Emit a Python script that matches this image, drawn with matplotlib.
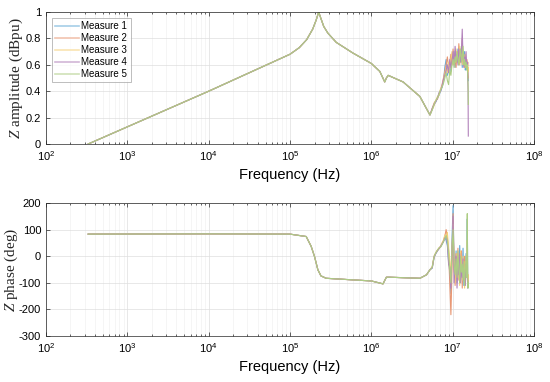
import numpy as np
import matplotlib
matplotlib.use("Agg")
import matplotlib.pyplot as plt
from matplotlib.colors import to_rgb
from matplotlib.ticker import FixedLocator, LogLocator, NullFormatter

plt.rcParams['font.family'] = ['Liberation Sans', 'DejaVu Sans']
plt.rcParams['mathtext.fontset'] = 'custom'
plt.rcParams['mathtext.rm'] = 'Liberation Sans'
plt.rcParams['mathtext.it'] = 'Liberation Serif:italic'

# shared low/mid frequency part (Hz)
freq_amp_lf = [330, 1e3, 1e4, 1e5, 1.3e5, 1.6e5, 1.9e5, 2.1e5, 2.25e5, 2.4e5, 2.6e5,
               2.92e5, 3.7e5, 5.9e5, 1e6, 1.27e6, 1.46e6, 1.53e6, 1.61e6, 2.46e6,
               3.95e6, 5.25e6]
amp_lf = [0.0, 0.13, 0.40, 0.68, 0.73, 0.79, 0.87, 0.94, 1.0, 0.95, 0.89,
          0.84, 0.77, 0.69, 0.61, 0.55, 0.47, 0.50, 0.52, 0.47,
          0.36, 0.22]

freq_ph_lf = [330, 1e4, 1e5, 1.58e5, 1.82e5, 2.0e5, 2.2e5, 2.4e5, 2.78e5, 5.9e5,
              1e6, 1.39e6, 1.53e6, 1.67e6, 3.95e6, 4.76e6, 5.25e6]
phase_lf = [83, 84, 83, 74, 37, -1, -51, -74, -83, -89,
            -93, -104, -79, -79, -83, -70, -51]

# high-frequency part (MHz)
freq_hf = [5.6, 5.9, 6.2, 6.5, 6.8, 7.1, 7.4, 7.7, 8.0, 8.3, 8.6, 8.9, 9.2, 9.5,
           9.8, 10.1, 10.4, 10.7, 11.0, 11.3, 11.6, 11.9, 12.2, 12.5, 12.8, 13.1,
           13.4, 13.7, 14.0, 14.3, 14.6, 14.9, 15.1, 15.3, 15.45, 15.55]

amp_m1 = [0.26, 0.30, 0.32, 0.35, 0.37, 0.40, 0.43, 0.47, 0.58, 0.64, 0.52, 0.56, 0.60, 0.55, 0.66, 0.62, 0.70, 0.58, 0.66, 0.62, 0.72, 0.60, 0.68, 0.64, 0.74, 0.58, 0.66, 0.60, 0.70, 0.56, 0.62, 0.58, 0.60, 0.54, 0.50, 0.48]
amp_m2 = [0.27, 0.31, 0.33, 0.34, 0.38, 0.41, 0.45, 0.50, 0.55, 0.60, 0.66, 0.58, 0.62, 0.68, 0.60, 0.72, 0.64, 0.68, 0.58, 0.70, 0.62, 0.76, 0.60, 0.70, 0.64, 0.80, 0.62, 0.68, 0.58, 0.66, 0.60, 0.64, 0.56, 0.62, 0.52, 0.50]
amp_m3 = [0.26, 0.29, 0.33, 0.36, 0.37, 0.42, 0.44, 0.48, 0.53, 0.58, 0.54, 0.62, 0.56, 0.64, 0.70, 0.60, 0.66, 0.62, 0.72, 0.64, 0.68, 0.60, 0.74, 0.62, 0.68, 0.60, 0.70, 0.64, 0.60, 0.68, 0.58, 0.62, 0.60, 0.56, 0.58, 0.55]
amp_m4 = [0.27, 0.30, 0.32, 0.35, 0.39, 0.40, 0.44, 0.49, 0.52, 0.56, 0.60, 0.54, 0.64, 0.58, 0.62, 0.70, 0.60, 0.74, 0.64, 0.68, 0.60, 0.72, 0.66, 0.62, 0.70, 0.87, 0.64, 0.58, 0.66, 0.60, 0.70, 0.58, 0.62, 0.50, 0.40, 0.06]
amp_m5 = [0.26, 0.30, 0.33, 0.35, 0.38, 0.41, 0.43, 0.46, 0.50, 0.54, 0.48, 0.45, 0.56, 0.52, 0.60, 0.64, 0.58, 0.66, 0.62, 0.70, 0.64, 0.60, 0.68, 0.72, 0.62, 0.66, 0.74, 0.60, 0.64, 0.58, 0.62, 0.56, 0.60, 0.52, 0.45, 0.30]

ph_m1 = [-45, -5, 10, 20, 30, 35, 45, 55, 70, 60, 40, -20, -60, -140, 60, 190, -40, -80, 20, -100, 0, -60, 40, -90, -20, -70, 30, -110, -40, -80, 10, -60, 140, -80, -110, -90]
ph_m2 = [-40, 0, 12, 22, 28, 38, 48, 60, 75, 100, 70, 20, -100, -220, -60, 160, -20, -110, 10, -60, 30, -90, -10, -70, 20, -120, -30, -60, 0, -100, -40, -20, -70, -110, -100, -80]
ph_m3 = [-42, -2, 14, 24, 32, 36, 50, 58, 80, 70, 90, 30, -10, -80, 40, 120, -60, -20, -100, 10, -70, -30, -110, 20, -50, -90, 0, -60, -120, -20, -70, -40, 60, -100, -90, -70]
ph_m4 = [-44, -4, 11, 21, 29, 37, 46, 54, 68, 72, 50, -30, -40, -120, 20, 150, -100, -40, 0, -120, -20, -70, 10, -100, -40, -80, -10, -90, -60, -110, -30, -70, -20, -120, -100, -110]
ph_m5 = [-41, -1, 13, 23, 31, 34, 44, 56, 65, 78, 60, 10, -50, -100, 30, 100, -30, -70, -10, -80, 20, -50, -100, 0, -60, -30, -90, -20, -110, -50, 0, -80, 160, -90, -120, -100]

labels = ['Measure 1', 'Measure 2', 'Measure 3', 'Measure 4', 'Measure 5']
colors = ['#0072BD', '#D95319', '#EDB120', '#7E2F8E', '#77AC30']
amps = [amp_m1, amp_m2, amp_m3, amp_m4, amp_m5]
phases = [ph_m1, ph_m2, ph_m3, ph_m4, ph_m5]
decades = [1e2, 1e3, 1e4, 1e5, 1e6, 1e7, 1e8]


def faded(c, a):
    # colour blended with the white background
    return tuple(a * v + (1 - a) for v in to_rgb(c))


def style_axes(ax, yticks, ylabel, label_x):
    ax.set_xscale('log')
    ax.set_xlim(decades[0], decades[-1])
    ax.set_ylim(yticks[0], yticks[-1])
    ax.set_yticks(yticks)
    ax.xaxis.set_major_locator(FixedLocator(decades))
    ax.xaxis.set_minor_locator(LogLocator(base=10, subs=np.arange(2, 10), numticks=20))
    ax.xaxis.set_minor_formatter(NullFormatter())
    ax.tick_params(which='both', direction='in', top=True, right=True,
                   labelsize=8, color='#262626', width=0.5)
    ax.tick_params(which='major', length=3)
    ax.tick_params(which='minor', length=1.6)
    ax.grid(which='major', color='#dedede', lw=0.5)
    ax.grid(which='minor', color='#eeeeee', lw=0.4)
    for s in ax.spines.values():
        s.set_color('#262626')
        s.set_linewidth(0.5)
    ax.set_xlabel('Frequency (Hz)', fontsize=10.5, labelpad=4)
    ax.set_ylabel(ylabel, fontsize=11, family=['Liberation Serif'], color='#262626')
    ax.yaxis.set_label_coords(label_x, 0.5)


fig = plt.figure(figsize=(5.5, 3.82), dpi=100)
ax1 = fig.add_axes([0.0836, 0.623, 0.8874, 0.3456])
ax2 = fig.add_axes([0.0836, 0.1204, 0.8874, 0.3482])

for c, lab, a, p in zip(colors, labels, amps, phases):
    f_amp = np.concatenate([freq_amp_lf, np.array(freq_hf) * 1e6])
    ax1.plot(f_amp, np.concatenate([amp_lf, a]), color=faded(c, 0.6), lw=0.8, label=lab)
    f_ph = np.concatenate([freq_ph_lf, np.array(freq_hf) * 1e6])
    ax2.plot(f_ph, np.concatenate([phase_lf, p]), color=faded(c, 0.6), lw=0.8)

style_axes(ax1, [0, 0.2, 0.4, 0.6, 0.8, 1.0], r'$Z$ amplitude (dBpu)', -0.043)
ax1.set_yticklabels(['0', '0.2', '0.4', '0.6', '0.8', '1'])
style_axes(ax2, [-300, -200, -100, 0, 100, 200], r'$Z$ phase (deg)', -0.054)
ax2.set_yticklabels(['-300', '-200', '-100', '0', '100', '200'])

leg = ax1.legend(loc='upper left', fontsize=7, frameon=True, fancybox=False,
                 edgecolor='#a0a0a0', handlelength=2.4, borderpad=0.35,
                 labelspacing=0.2, handletextpad=0.3, borderaxespad=0.6)
leg.get_frame().set_linewidth(0.6)
for h, c in zip(leg.get_lines(), colors):
    h.set_linewidth(1.2)
    h.set_color(faded(c, 0.35))

fig.savefig('out.png', dpi=100)
